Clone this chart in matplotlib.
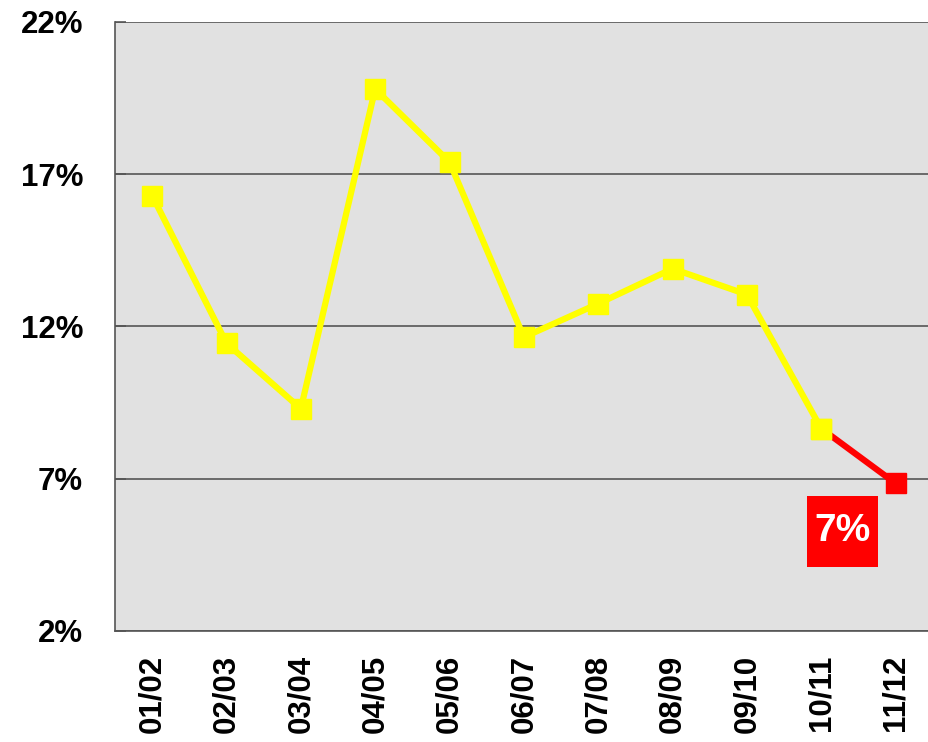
import matplotlib.pyplot as plt
from matplotlib.patches import Rectangle

seasons = ['01/02', '02/03', '03/04', '04/05', '05/06', '06/07',
           '07/08', '08/09', '09/10', '10/11', '11/12']
rates = [16.3, 11.45, 9.3, 19.8, 17.4, 11.65, 12.75, 13.9, 13.05, 8.65, 6.85]
yticks = [2, 7, 12, 17, 22]
last_label = '7%'

plt.rcParams['font.family'] = ['Liberation Sans', 'DejaVu Sans']
plt.rcParams['font.weight'] = 'bold'

fig = plt.figure(figsize=(9.29, 7.42), dpi=100)
ax = fig.add_axes([115 / 929, 1 - 631 / 742, 814 / 929, 609 / 742])
ax.set_facecolor('#e1e1e1')

x = list(range(len(seasons)))
ax.plot(x[:-1], rates[:-1], color='#ffff00', lw=4.5, marker='s',
        ms=14.5, mec='#ffff00', mfc='#ffff00', zorder=3)
ax.plot(x[-2:], rates[-2:], color='#ff0000', lw=4.5, zorder=2)
ax.plot(x[-1], rates[-1], color='#ff0000', marker='s', ms=14.5, zorder=4)
ax.plot(x[-2], rates[-2], color='#ffff00', marker='s', ms=14.5, zorder=5)

# red label box under the last point
bx, by = x[-1] - 0.71, rates[-1] - 1.58
bw, bh = 0.955, 2.33
ax.add_patch(Rectangle((bx - bw / 2, by - bh / 2), bw, bh,
                       fc='#ff0000', ec='none', zorder=6))
ax.text(bx, by, last_label, color='white', fontsize=28, fontweight='bold',
        ha='center', va='center', zorder=7)

ax.set_xlim(-0.5, 10.45)
ax.set_ylim(2, 22)
ax.set_yticks(yticks)
ax.set_yticklabels([f'{t}%' for t in yticks], fontsize=22.5, fontweight='bold')
ax.set_xticks(x)
ax.set_xticklabels(seasons, rotation=90, fontsize=22.5, fontweight='bold')
ax.tick_params(axis='y', direction='in', length=8, width=1.2, color='#555555', pad=23)
ax.tick_params(axis='x', length=0, pad=17)

ax.yaxis.grid(True, color='#555555', lw=1.2)
ax.set_axisbelow(True)
for side in ['top', 'right']:
    ax.spines[side].set_visible(False)
for side in ['left', 'bottom']:
    ax.spines[side].set_color('#555555')
    ax.spines[side].set_linewidth(1.2)

fig.savefig('out.png', dpi=100)
